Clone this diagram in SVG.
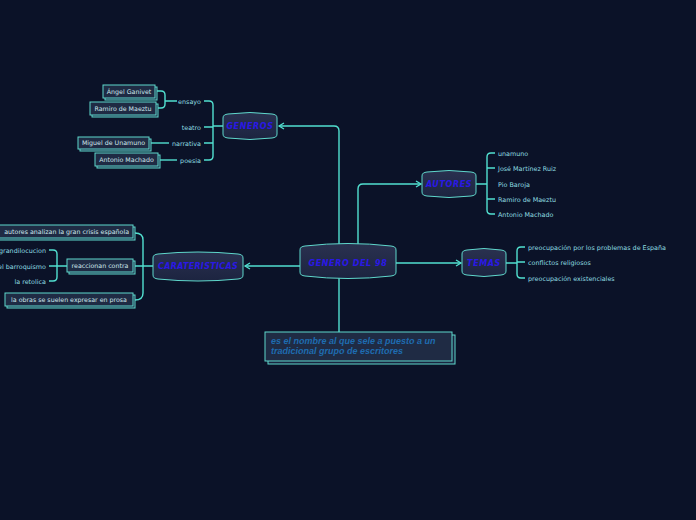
<svg xmlns="http://www.w3.org/2000/svg" width="696" height="520" viewBox="0 0 696 520">
<defs>
<linearGradient id="ng" x1="0" y1="0" x2="0" y2="1">
<stop offset="0" stop-color="#2a3150"/>
<stop offset="1" stop-color="#1c2440"/>
</linearGradient>
<marker id="arr" markerWidth="8" markerHeight="8" refX="6" refY="4" orient="auto" markerUnits="userSpaceOnUse">
<path d="M1,1 L6,4 L1,7" fill="none" stroke="#52e0d0" stroke-width="1.3"/>
</marker>
</defs>
<style>
.c{fill:none;stroke:#52e0d0;stroke-width:1.4}
.node{fill:url(#ng);stroke:#5fd8cc;stroke-width:1}
.nt{font-family:"DejaVu Sans",sans-serif;font-size:8px;font-weight:bold;font-style:italic;fill:#2a18e6;text-anchor:middle;letter-spacing:0.6px}
.box{fill:#1f2b44;stroke:#5fd8cc;stroke-width:1}
.sh{fill:#1a2540;stroke:#5fd8cc;stroke-width:1}
.bt{font-family:"DejaVu Sans",sans-serif;font-size:6.3px;fill:#cfe8ee}
.lt{font-family:"DejaVu Sans",sans-serif;font-size:6.4px;fill:#8fdde0}
.note{font-family:"Liberation Sans",sans-serif;font-size:9px;font-weight:bold;font-style:italic;fill:#1e6cb0}
</style>
<rect width="696" height="520" fill="#0b1228"/>
<g id="connectors">
<path class="c" d="M339,244 V131 Q339,126 334,126 H279" marker-end="url(#arr)"/>
<path class="c" d="M358,244 V189 Q358,184 363,184 H421" marker-end="url(#arr)"/>
<path class="c" d="M396,263 H461" marker-end="url(#arr)"/>
<path class="c" d="M300,266 H245" marker-end="url(#arr)"/>
<path class="c" d="M339,277 V332"/>
<path class="c" d="M223,126 H213 M204,101 H209 Q213,101 213,105 V156 Q213,160 209,160 H204 M204,127 H213 M204,143 H213"/>
<path class="c" d="M156,91 H161 Q165,91 165,95 V104 Q165,108 161,108 H157 M165,101 H177"/>
<path class="c" d="M149,143 H169"/>
<path class="c" d="M158,160 H177"/>
<path class="c" d="M476,184 H487 M495,153 H491 Q487,153 487,157 V210 Q487,214 491,214 H495 M487,168 H495 M487,199 H495"/>
<path class="c" d="M506,263 H517 M525,247 H521 Q517,247 517,251 V274 Q517,278 521,278 H525 M517,262 H525"/>
<path class="c" d="M153,266 H143 M135,233 Q143,233 143,240 V293 Q143,300 135,300 M135,266 H143"/>
<path class="c" d="M67,266 H57 M49,250 H53 Q57,250 57,254 V277 Q57,281 53,281 H49 M49,266 H57"/>
</g>
<g id="center">
<path class="node" d="M300,250 C300,247 302,246.5 305,246 Q348,241 391,246 C394,246.5 396,247 396,250 V272 C396,275 394,275.5 391,276 Q348,281 305,276 C302,275.5 300,275 300,272 Z"/>
<text class="nt" x="348" y="266">GENERO DEL 98</text>
</g>
<g id="generos">
<path class="node" d="M223,118 C223,115 225,114.5 228,114 Q250,111 272,114 C275,114.5 277,115 277,118 V134 C277,137 275,137.5 272,138 Q250,141 228,138 C225,137.5 223,137 223,134 Z"/>
<text class="nt" x="250" y="129">GENEROS</text>
</g>
<g id="autores">
<path class="node" d="M422,176 C422,173 424,172.5 427,172 Q449,169 471,172 C474,172.5 476,173 476,176 V192 C476,195 474,195.5 471,196 Q449,199 427,196 C424,195.5 422,195 422,192 Z"/>
<text class="nt" x="449" y="187">AUTORES</text>
</g>
<g id="temas">
<path class="node" d="M462,254 C462,251 464,250.5 467,250 Q484,247 501,250 C504,250.5 506,251 506,254 V271 C506,274 504,274.5 501,275 Q484,278 467,275 C464,274.5 462,274 462,271 Z"/>
<text class="nt" x="484" y="266">TEMAS</text>
</g>
<g id="caracteristicas">
<path class="node" d="M153,258 C153,255 155,254.5 158,254 Q198,250 238,254 C241,254.5 243,255 243,258 V275 C243,278 241,278.5 238,279 Q198,283 158,279 C155,278.5 153,278 153,275 Z"/>
<text class="nt" x="198" y="269" style="letter-spacing:0.3px">CARATERISTICAS</text>
</g>
<g id="note">
<rect class="sh" x="268" y="335" width="187" height="29"/>
<rect class="box" x="265" y="332" width="187" height="29"/>
<text class="note" x="271" y="344">es el nombre al que sele a puesto a un</text>
<text class="note" x="271" y="354">tradicional grupo de escritores</text>
</g>
<g id="ensayo"><text class="lt" x="201" y="103.5" text-anchor="end">ensayo</text></g>
<g id="teatro"><text class="lt" x="201" y="129.5" text-anchor="end">teatro</text></g>
<g id="narrativa"><text class="lt" x="201" y="145.5" text-anchor="end">narrativa</text></g>
<g id="poesia"><text class="lt" x="201" y="162.5" text-anchor="end">poesia</text></g>
<g id="angel">
<rect class="sh" x="105" y="87" width="52" height="13"/>
<rect class="box" x="103" y="85" width="52" height="13"/>
<text class="bt" x="129" y="93.5" text-anchor="middle">Ángel Ganivet</text>
</g>
<g id="ramiro1">
<rect class="sh" x="92" y="104" width="66" height="13"/>
<rect class="box" x="90" y="102" width="66" height="13"/>
<text class="bt" x="123" y="110.5" text-anchor="middle">Ramiro de Maeztu</text>
</g>
<g id="miguel">
<rect class="sh" x="80" y="139" width="71" height="12"/>
<rect class="box" x="78" y="137" width="71" height="12"/>
<text class="bt" x="113.5" y="145" text-anchor="middle">Miguel de Unamuno</text>
</g>
<g id="antonio1">
<rect class="sh" x="97" y="155" width="63" height="13"/>
<rect class="box" x="95" y="153" width="63" height="13"/>
<text class="bt" x="126.5" y="161.5" text-anchor="middle">Antonio Machado</text>
</g>
<g id="a1"><text class="lt" x="498" y="155.5">unamuno</text></g>
<g id="a2"><text class="lt" x="498" y="170.5">José Martínez Ruiz</text></g>
<g id="a3"><text class="lt" x="498" y="186.5">Pio Baroja</text></g>
<g id="a4"><text class="lt" x="498" y="201.5">Ramiro de Maeztu</text></g>
<g id="a5"><text class="lt" x="498" y="216.5">Antonio Machado</text></g>
<g id="t1"><text class="lt" x="528" y="249.5">preocupación por los problemas de España</text></g>
<g id="t2"><text class="lt" x="528" y="264.5">conflictos religiosos</text></g>
<g id="t3"><text class="lt" x="528" y="280.5">preocupación existenciales</text></g>
<g id="crisis">
<rect class="sh" x="-1" y="227" width="136" height="13"/>
<rect class="box" x="-3" y="225" width="136" height="13"/>
<text class="bt" x="129" y="233.5" text-anchor="end">autores analizan la gran crisis española</text>
</g>
<g id="reacciones">
<rect class="sh" x="69" y="261" width="66" height="13"/>
<rect class="box" x="67" y="259" width="66" height="13"/>
<text class="bt" x="100" y="267.5" text-anchor="middle">reaccionan contra</text>
</g>
<g id="prosa">
<rect class="sh" x="7" y="295" width="128" height="13"/>
<rect class="box" x="5" y="293" width="128" height="13"/>
<text class="bt" x="69" y="301.5" text-anchor="middle">la obras se suelen expresar en prosa</text>
</g>
<g id="r1"><text class="lt" x="46" y="252.5" text-anchor="end">grandilocucion</text></g>
<g id="r2"><text class="lt" x="46" y="268.5" text-anchor="end">el barroquismo</text></g>
<g id="r3"><text class="lt" x="46" y="283.5" text-anchor="end">la retolica</text></g>
</svg>
